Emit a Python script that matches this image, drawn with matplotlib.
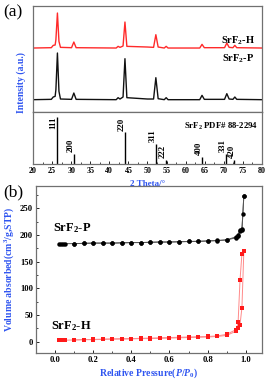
import matplotlib
matplotlib.use("Agg")
import matplotlib.pyplot as plt
from matplotlib.ticker import MultipleLocator

plt.rcParams['font.family'] = ['Liberation Serif', 'DejaVu Serif']
plt.rcParams['font.weight'] = 'bold'
plt.rcParams['mathtext.fontset'] = 'custom'
plt.rcParams['mathtext.rm'] = 'Liberation Serif:bold'
plt.rcParams['mathtext.it'] = 'Liberation Serif:bold:italic'
plt.rcParams['mathtext.bf'] = 'Liberation Serif:bold'

# ---------------- (a) XRD data ----------------
two_theta = [20, 24.8, 25.3, 25.8, 26.0, 26.4, 26.8, 27.2, 30.1, 30.7, 31.3,
             41.8, 42.3, 42.8, 43.6, 44.1, 44.6, 50.0, 51.6, 52.2, 52.8,
             54.4, 54.9, 55.4, 63.7, 64.3, 64.9, 70.2, 70.8, 71.4, 72.4,
             72.9, 73.4, 80]
xrd_P = [0, 1, 8, 10, 30, 140, 25, 2, 1, 20, 1,
         0, 6, 2, 8, 123, 6, 2, 2, 66, 3,
         0, 6, 0, 0, 13, 1, 1, 18, 2, 1,
         8, 1, 0]
xrd_H = [0, 1, 8, 9, 25, 105, 20, 2, 1, 18, 1,
         0, 5, 2, 6, 78, 5, 3, 2, 40, 3,
         0, 5, 0, 0, 11, 1, 1, 15, 2, 1,
         8, 1, 0]
offset_P = 37
offset_H = 192

ref_pos = [26.4, 30.7, 44.1, 52.2, 54.8, 64.2, 70.6, 72.8]
ref_int = [100, 22, 67, 43, 9, 15, 22, 9]
ref_hkl = ['111', '200', '220', '311', '222', '400', '331', '420']

# ---------------- (b) BET data ----------------
p_ads_P = [0.02, 0.03, 0.04, 0.05, 0.10, 0.15, 0.20, 0.25, 0.30, 0.35, 0.40,
           0.45, 0.50, 0.55, 0.60, 0.65, 0.70, 0.75, 0.80, 0.85, 0.90, 0.95,
           0.96, 0.97, 0.98, 0.985, 0.99]
v_ads_P = [184, 184, 184, 184, 184, 184.5, 185, 185, 185, 185.5, 186,
           186, 186.5, 187, 187, 187.5, 188, 188, 189, 189.5, 191, 195,
           199, 208, 210, 239, 274]
p_des_P = [0.99, 0.98, 0.97, 0.96, 0.95, 0.90, 0.85, 0.80, 0.75, 0.70, 0.65,
           0.60, 0.55, 0.50, 0.45, 0.40, 0.35, 0.30, 0.25, 0.20, 0.15, 0.10]
v_des_P = [274, 211, 209, 200, 197, 191, 190, 189, 188.5, 188, 187.5,
           187, 187, 186.5, 186, 186, 185.5, 185, 185, 185, 184.5, 184]

p_ads_H = [0.02, 0.03, 0.04, 0.05, 0.10, 0.15, 0.20, 0.25, 0.30, 0.35, 0.40,
           0.45, 0.50, 0.55, 0.60, 0.65, 0.70, 0.75, 0.80, 0.85, 0.90, 0.95,
           0.96, 0.97, 0.98, 0.99]
v_ads_H = [3, 3, 3, 3, 3.5, 4, 4, 4.5, 5, 5, 5.5,
           6, 6, 6.5, 7, 7.5, 8, 8.5, 9, 10, 12, 20,
           37, 116, 165, 170]
p_des_H = [0.99, 0.98, 0.97, 0.96, 0.95, 0.90, 0.85, 0.80, 0.75, 0.70, 0.65,
           0.60, 0.55, 0.50, 0.45, 0.40, 0.35, 0.30, 0.25, 0.20, 0.15, 0.10]
v_des_H = [170, 64, 32, 25, 23, 14, 11, 10, 9.5, 9, 8.5,
           8, 7.5, 7, 6.5, 6, 6, 5.5, 5, 4.5, 4, 3.5]

BLUE = '#2f55f0'
FRAME = '#707070'

fig = plt.figure(figsize=(2.69, 3.84), dpi=100)

def style(ax, fs):
    for s in ax.spines.values():
        s.set_color(FRAME)
        s.set_linewidth(0.9)
    ax.tick_params(direction='in', labelsize=fs, width=0.6, length=2.5,
                   colors='black', pad=2)
    ax.tick_params(which='minor', direction='in', length=1.5, width=0.5)
    for lab in ax.get_xticklabels() + ax.get_yticklabels():
        lab.set_fontweight('bold')

# upper XRD patterns
ax1 = fig.add_axes([0.1227, 0.7083, 0.851, 0.2760])
ax1.plot(two_theta, [v + offset_P for v in xrd_P], color='#111111', lw=1.0)
ax1.plot(two_theta, [v + offset_H for v in xrd_H], color='#ff2a2a', lw=1.0)
ax1.set_xlim(20, 80)
ax1.set_ylim(0, 318)
ax1.set_xticks([])
ax1.set_yticks([])
style(ax1, 5.5)
ax1.text(69.2, 205, 'SrF$_2$-H', fontsize=7.5, fontweight='bold')
ax1.text(69.6, 152, 'SrF$_2$-P', fontsize=7.5, fontweight='bold')

# lower reference sticks
ax2 = fig.add_axes([0.1227, 0.5729, 0.851, 0.1354])
ax2.vlines(ref_pos, 0, ref_int, color='black', lw=1.0)
for x, h, lab in zip(ref_pos, ref_int, ref_hkl):
    if h >= 90:
        ax2.text(x - 1.2, h, lab, rotation=90, ha='center', va='top',
                 fontsize=6.3, fontweight='bold')
    else:
        ax2.text(x - 0.8, h + 3, lab, rotation=90, ha='center', va='bottom',
                 fontsize=6.3, fontweight='bold')
ax2.text(79, 80, 'SrF$_2$ PDF# 88-2294', ha='right', va='center',
         fontsize=6.3, fontweight='bold')
ax2.set_xlim(20, 80)
ax2.set_ylim(0, 110)
ax2.set_yticks([])
ax2.xaxis.set_major_locator(MultipleLocator(5))
ax2.xaxis.set_minor_locator(MultipleLocator(2.5))
ax2.set_xlabel('2 Theta/°', color=BLUE, fontsize=6.5, fontweight='bold',
               labelpad=4)
style(ax2, 5.8)

fig.text(21 / 269, 1 - 83 / 384, 'Intensity (a.u.)', rotation=90, color=BLUE,
         fontsize=7, fontweight='bold', ha='center', va='center')
fig.text(3 / 269, 1 - 12 / 384, '(a)', fontsize=12.5, ha='left', va='center',
         fontweight='normal')

# (b) isotherms
ax3 = fig.add_axes([0.1338, 0.0807, 0.840, 0.4349])
ax3.plot(p_ads_P, v_ads_P, color='#555555', lw=0.7)
ax3.plot(p_des_P, v_des_P, color='#555555', lw=0.7)
ax3.plot(p_ads_P, v_ads_P, 'o', color='black', ms=3.2, mew=0)
ax3.plot(p_des_P, v_des_P, 'o', color='black', ms=3.2, mew=0)
ax3.plot(p_ads_H, v_ads_H, color='#ff8a8a', lw=0.7)
ax3.plot(p_des_H, v_des_H, color='#ff8a8a', lw=0.7)
ax3.plot(p_ads_H, v_ads_H, 's', color='#ff1a1a', ms=3.0, mew=0)
ax3.plot(p_des_H, v_des_H, 's', color='#ff1a1a', ms=3.0, mew=0)
ax3.set_xlim(-0.1, 1.085)
ax3.set_ylim(-21, 292)
ax3.xaxis.set_major_locator(MultipleLocator(0.2))
ax3.xaxis.set_minor_locator(MultipleLocator(0.1))
ax3.yaxis.set_major_locator(MultipleLocator(50))
ax3.yaxis.set_minor_locator(MultipleLocator(25))
ax3.set_xticks([0.0, 0.2, 0.4, 0.6, 0.8, 1.0])
ax3.set_xticklabels(['0.0', '0.2', '0.4', '0.6', '0.8', '1.0'])
ax3.set_xlabel('Relative Pressure($P$/$P_0$)', color=BLUE, fontsize=7,
               fontweight='bold', labelpad=2)
ax3.set_ylabel('Volume absorbed(cm$^3$/g,STP)', color=BLUE, fontsize=7,
               fontweight='bold', labelpad=3)
style(ax3, 6.2)
ax3.text(-0.01, 213, 'SrF$_2$-P', fontsize=9, fontweight='bold', va='center')
ax3.text(-0.02, 30, 'SrF$_2$-H', fontsize=9, fontweight='bold', va='center')
fig.text(3 / 269, 1 - 192 / 384, '(b)', fontsize=12.5, ha='left', va='center',
         fontweight='normal')

fig.savefig('out.png', dpi=100)
